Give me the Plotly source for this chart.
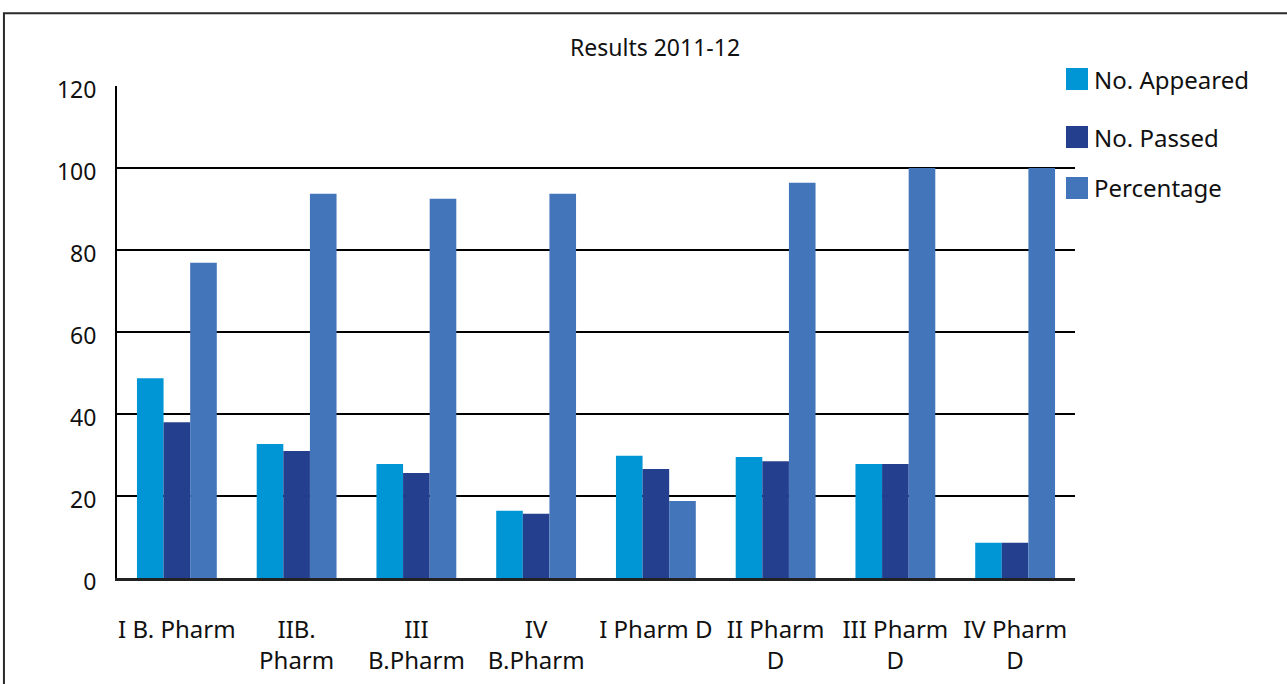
import plotly.graph_objects as go

categories = ["I B. Pharm", "IIB.<br>Pharm", "III<br>B.Pharm", "IV<br>B.Pharm",
              "I Pharm D", "II Pharm<br>D", "III Pharm<br>D", "IV Pharm<br>D"]
appeared = [48.7, 32.7, 27.8, 16.4, 29.8, 29.5, 27.8, 8.6]
passed = [38.0, 31.0, 25.6, 15.7, 26.6, 28.5, 27.8, 8.6]
percentage = [76.9, 93.7, 92.5, 93.7, 18.8, 96.4, 100, 100]
series_names = ["No. Appeared", "No. Passed", "Percentage"]
series_colors = ["#0096D5", "#243F8D", "#4275BA"]
y_ticks = [0, 20, 40, 60, 80, 100, 120]

FONT = "Noto Sans"

fig = go.Figure()
for name, vals, col in zip(series_names, [appeared, passed, percentage], series_colors):
    fig.add_trace(go.Bar(x=categories, y=vals, name=name, marker_color=col,
                         marker_line_width=0, showlegend=False))

# legend drawn as swatches + labels beside the plot
legend_y = [1.0142, 0.8963, 0.7927]
shapes = []
annotations = []
for name, col, yc in zip(series_names, series_colors, legend_y):
    shapes.append(dict(type="rect", xref="paper", yref="paper",
                       x0=0.9906, x1=1.0136, y0=yc - 0.0224, y1=yc + 0.0224,
                       fillcolor=col, line_width=0, layer="above"))
    annotations.append(dict(text=name, xref="paper", yref="paper", x=1.0175, y=yc,
                            xanchor="left", yanchor="middle", showarrow=False,
                            font=dict(family=FONT, size=24, color="#111")))

# outer frame
shapes.append(dict(type="rect", xref="paper", yref="paper",
                   x0=-0.118, x1=1.23, y0=-0.23, y1=1.148,
                   line=dict(color="#2a2a2a", width=2), fillcolor="rgba(0,0,0,0)",
                   layer="below"))

fig.update_layout(
    width=1287, height=684,
    margin=dict(l=117, r=212, t=86, b=106),
    paper_bgcolor="white", plot_bgcolor="white",
    barmode="group", bargap=1/3, bargroupgap=0,
    font=dict(family=FONT, size=23, color="#111"),
    title=dict(text="Results 2011-12", x=655/1287, xref="container", xanchor="center",
               y=1 - 48/684, yref="container", yanchor="middle",
               font=dict(family=FONT, size=23, color="#111")),
    shapes=shapes, annotations=annotations,
)
fig.update_yaxes(range=[0, 120], tickvals=y_ticks, showgrid=True, gridcolor="#000",
                 gridwidth=2, showline=True, linecolor="#000", linewidth=2,
                 zeroline=False, ticks="", ticklabelstandoff=14, ticklabelshift=4,
                 automargin=False,
                 tickfont=dict(family=FONT, size=23, color="#111"))
fig.update_xaxes(showline=True, linecolor="#222", linewidth=3, ticks="",
                 ticklabelstandoff=28, tickangle=0, automargin=False,
                 tickfont=dict(family=FONT, size=24, color="#111"))

fig.write_html("out.html")
